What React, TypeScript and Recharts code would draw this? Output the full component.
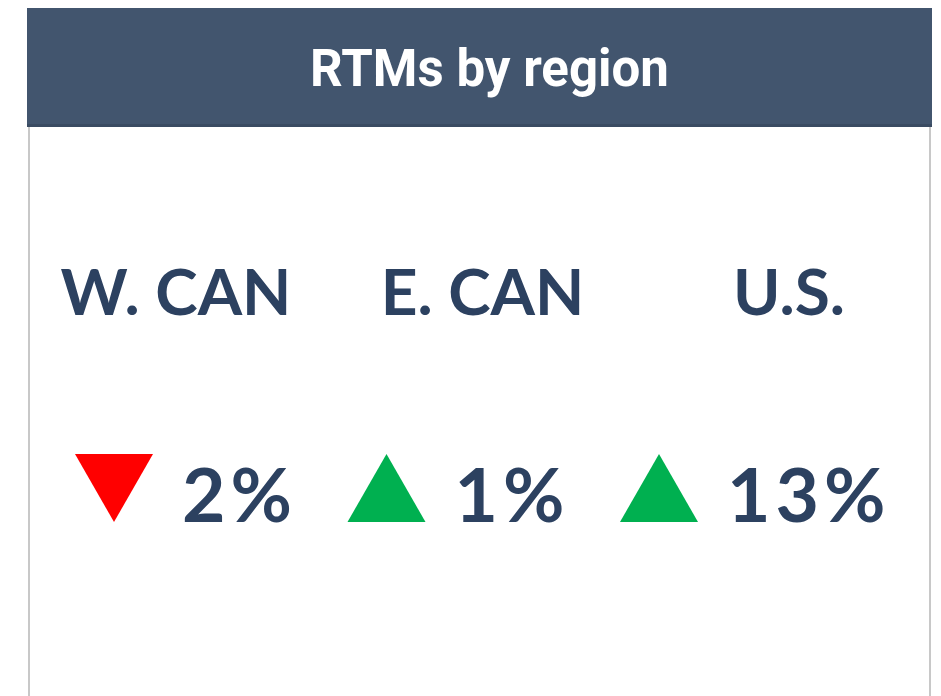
import React from "react";
import { ComposedChart, Scatter, XAxis, YAxis } from "recharts";

// KPI card: change in RTMs per region
const regions = ["W. CAN", "E. CAN", "U.S."];
const changes = [-2, 1, 13];
const title = "RTMs by region";

const ink = "#2c4160";
const up = "#00b050";
const down = "#ff0000";

const rows = regions.map((r, i) => ({ region: r, change: changes[i], row: 1 }));

const RegionTick = (props: any) => {
  const { x, y, payload } = props;
  return (
    <text x={x} y={y} textAnchor="middle" fontFamily="Lato" fontWeight={700} fontSize={64} fill={ink}>
      {payload.value}
    </text>
  );
};

const ChangeMark = (props: any) => {
  const { cx, cy, payload } = props;
  const v = payload.change;
  const half = 39;
  const h = 34;
  const pts =
    v < 0
      ? `${cx - half},${cy - h} ${cx + half},${cy - h} ${cx},${cy + h}`
      : `${cx},${cy - h} ${cx + half},${cy + h} ${cx - half},${cy + h}`;
  return (
    <g>
      <polygon points={pts} fill={v < 0 ? down : up} />
      <text
        x={cx + half + 29}
        y={cy + h}
        fontFamily="Lato"
        fontWeight={700}
        fontSize={75}
        letterSpacing={5}
        fill={ink}
      >
        {`${Math.abs(v)}%`}
      </text>
    </g>
  );
};

export default function App() {
  return (
    <div style={{ position: "relative", width: 941, height: 696, overflow: "hidden", background: "#fff" }}>
      <style>{`body{margin:0;overflow:hidden}`}</style>
      <div
        style={{
          position: "absolute",
          left: 27,
          top: 8,
          width: 905,
          height: 112,
          paddingTop: 4,
          background: "#42556e",
          borderBottom: "3px solid #3a4b62",
          color: "#fff",
          fontFamily: "Roboto",
          fontWeight: 700,
          fontSize: 51,
          display: "flex",
          alignItems: "center",
          justifyContent: "center",
        }}
      >
        <span style={{ marginLeft: 20 }}>{title}</span>
      </div>
      <div
        style={{
          position: "absolute",
          left: 28,
          top: 127,
          width: 899,
          height: 569,
          borderLeft: "2px solid #c8c8c8",
          borderRight: "2px solid #c8c8c8",
        }}
      />
      <div style={{ position: "absolute", left: 0, top: 127 }}>
        <ComposedChart width={941} height={569} data={rows} margin={{ top: 0, right: 0, left: 0, bottom: 35 }}>
          <XAxis
            xAxisId="label"
            dataKey="region"
            type="category"
            scale="point"
            orientation="top"
            height={188}
            padding={{ left: 176, right: 152 }}
            tickSize={0}
            tickMargin={0}
            axisLine={false}
            tickLine={false}
            tick={<RegionTick />}
            interval={0}
          />
          <XAxis
            xAxisId="value"
            dataKey="region"
            type="category"
            scale="point"
            padding={{ left: 114, right: 282 }}
            hide
          />
          <YAxis dataKey="row" type="number" domain={[0, 2]} hide />
          <Scatter xAxisId="value" dataKey="row" shape={<ChangeMark />} isAnimationActive={false} />
        </ComposedChart>
      </div>
    </div>
  );
}
